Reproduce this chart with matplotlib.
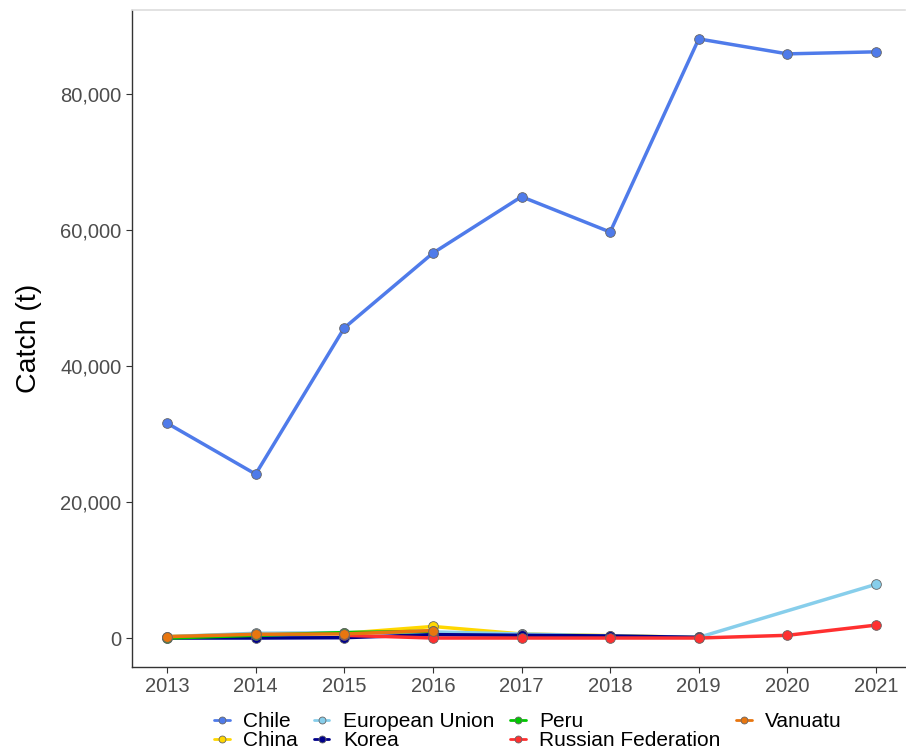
import numpy as np
import matplotlib.pyplot as plt
from matplotlib.ticker import FuncFormatter

plt.rcParams['font.family'] = ['Liberation Sans', 'DejaVu Sans']

# data (catch in tonnes)
years = [2013, 2014, 2015, 2016, 2017, 2018, 2019, 2020, 2021]
chile = [31600, 24100, 45600, 56600, 64900, 59700, 88100, 85900, 86200]
china_years = [2013, 2014, 2015, 2016, 2017, 2018, 2019]
china = [200, 600, 700, 1700, 600, 350, 100]
eu_years = [2013, 2014, 2015, 2016, 2017, 2018, 2019, 2021]
eu = [200, 700, 800, 900, 600, 300, 100, 7900]
korea_years = [2013, 2014, 2015, 2016, 2017, 2018, 2019]
korea = [0, 0, 50, 500, 400, 300, 100]
peru_years = [2013, 2014, 2015, 2016]
peru = [0, 400, 800, 1000]
russia_years = [2015, 2016, 2017, 2018, 2019, 2020, 2021]
russia = [400, 0, 0, 0, 0, 400, 1900]
vanuatu_years = [2013, 2014, 2015, 2016]
vanuatu = [200, 550, 600, 1100]

series = [
    ('Chile', years, chile, '#4F7BEA'),
    ('China', china_years, china, '#FFD700'),
    ('European Union', eu_years, eu, '#87CEEB'),
    ('Korea', korea_years, korea, '#00008B'),
    ('Peru', peru_years, peru, '#00C800'),
    ('Russian Federation', russia_years, russia, '#FF3030'),
    ('Vanuatu', vanuatu_years, vanuatu, '#E8760F'),
]

fig = plt.figure(figsize=(9.06, 7.54), dpi=100)
ax = fig.add_axes([132 / 906, 1 - 667 / 754, (905 - 132) / 906, (667 - 10) / 754])

for name, x, y, col in series:
    ax.plot(x, y, color=col, lw=2.5, marker='o', markersize=7,
            markerfacecolor=col, markeredgecolor='#666666', markeredgewidth=0.6,
            label=name, solid_capstyle='round')

ax.set_xlim(2012.605, 2021.327)
ax.set_ylim(-4260, 92350)
ax.set_xticks(years)
ax.set_yticks([0, 20000, 40000, 60000, 80000])
ax.yaxis.set_major_formatter(FuncFormatter(lambda v, p: f'{int(v):,}'))
ax.tick_params(labelsize=14.5, colors='#333333', labelcolor='#4D4D4D', length=4, width=0.8)
ax.set_ylabel('Catch (t)', fontsize=20.5, labelpad=13)

for s in ['left', 'bottom']:
    ax.spines[s].set_color('#333333')
    ax.spines[s].set_linewidth(1.0)
ax.spines['right'].set_visible(False)
ax.spines['top'].set_color('#DDDDDD')
ax.spines['top'].set_linewidth(1.2)

leg = fig.legend(loc='lower center', bbox_to_anchor=(0.583, -0.02), ncol=4, frameon=False,
                 fontsize=15, handlelength=0.75, handletextpad=0.65, columnspacing=0.75,
                 labelspacing=0.0)
for h in leg.legend_handles:
    h.set_linewidth(2.0)
    h.set_markersize(5)

fig.savefig('out.png', dpi=100)
